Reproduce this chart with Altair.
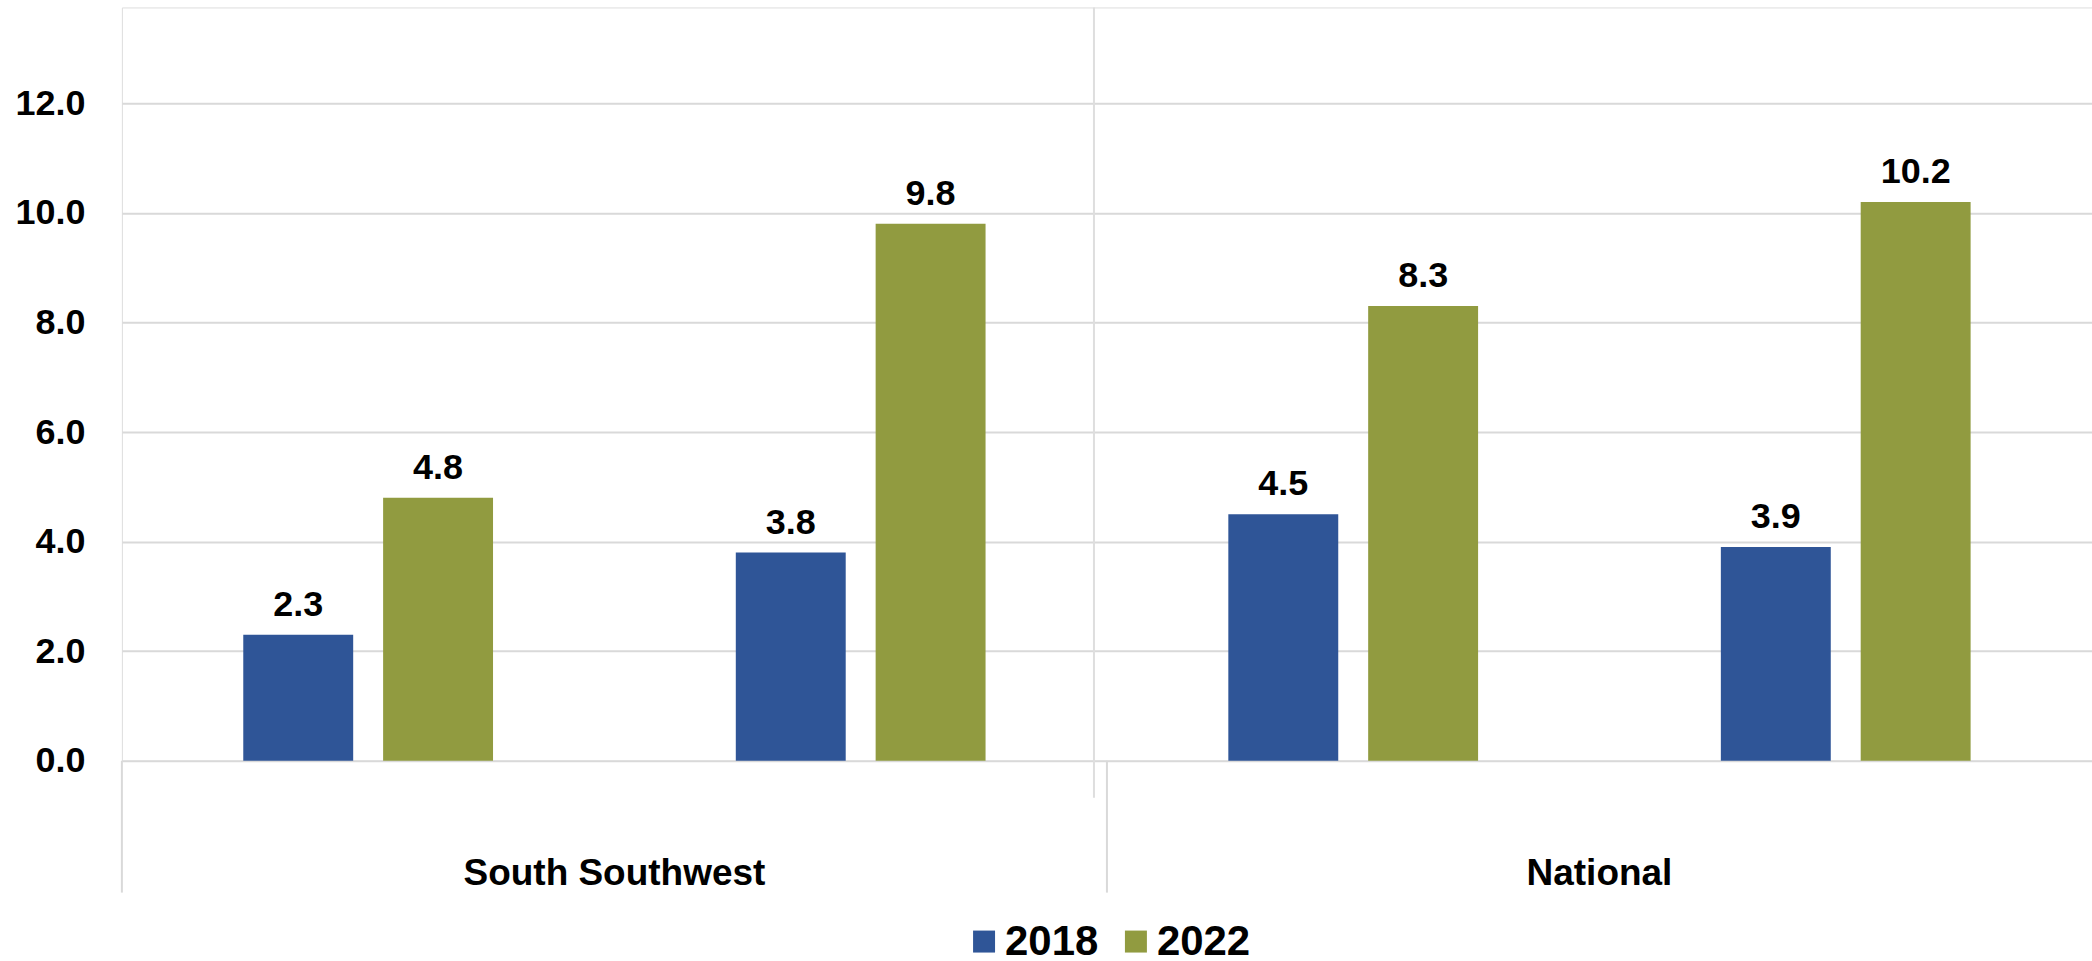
import altair as alt
import pandas as pd

# ---- data ----
region_order = ["South Southwest", "National"]
drug_order = ["Cocaine", "Methamphetamines"]
years = ["2018", "2022"]
regions = ["South Southwest", "South Southwest", "National", "National"]
drugs = ["Cocaine", "Methamphetamines", "Cocaine", "Methamphetamines"]
values_2018 = [2.3, 3.8, 4.5, 3.9]
values_2022 = [4.8, 9.8, 8.3, 10.2]
y_ticks = [0, 2, 4, 6, 8, 10, 12]
colors = ["#2F5597", "#919B40"]

keys = [r + "|" + d for r in region_order for d in drug_order]

rows = []
for r, d, a, b in zip(regions, drugs, values_2018, values_2022):
    k = r + "|" + d
    rows.append({"key": k, "region": r, "drug": d, "year": years[0], "value": a})
    rows.append({"key": k, "region": r, "drug": d, "year": years[1], "value": b})
df = pd.DataFrame(rows)

# one row per region group, anchored on its first category
groups = pd.DataFrame(
    {"key": [r + "|" + drug_order[0] for r in region_order], "region": region_order}
)
separator_df = groups[groups["region"] == region_order[1]]

FONT = "Liberation Sans"
GRID = "#D9D9D9"
W = 1972
H = 754

x_scale = alt.Scale(domain=keys, paddingInner=0, paddingOuter=0)

x_enc = alt.X(
    "key:N",
    scale=x_scale,
    axis=alt.Axis(
        title=None,
        labelAngle=0,
        labelExpr="split(datum.label, '|')[1]",
        labelFont=FONT,
        labelFontSize=37.5,
        labelFontWeight="bold",
        labelColor="black",
        labelPadding=27,
        labelLimit=0,
        ticks=False,
        grid=False,
        domain=False,
    ),
)
xo_enc = alt.XOffset(
    "year:N", sort=years, scale=alt.Scale(paddingInner=0.214, paddingOuter=0.868)
)
y_enc = alt.Y(
    "value:Q",
    scale=alt.Scale(domain=[0, 13.75], nice=False, zero=True),
    axis=alt.Axis(
        title=None,
        values=y_ticks,
        format=".1f",
        domain=False,
        ticks=False,
        labelFont=FONT,
        labelFontSize=36,
        labelFontWeight="bold",
        labelColor="black",
        labelPadding=37,
        gridColor=GRID,
        gridWidth=2,
    ),
)

bars = alt.Chart(df).mark_bar().encode(
    x=x_enc,
    xOffset=xo_enc,
    y=y_enc,
    color=alt.Color(
        "year:N",
        sort=years,
        scale=alt.Scale(domain=years, range=colors),
        legend=alt.Legend(
            title=None,
            orient="none",
            direction="horizontal",
            legendX=842,
            legendY=914,
            symbolType="square",
            symbolSize=484,
            symbolStrokeWidth=0,
            labelFont=FONT,
            labelFontSize=42,
            labelFontWeight="bold",
            labelColor="black",
            labelOffset=0,
            columnPadding=16,
            labelLimit=0,
        ),
    ),
)

labels = alt.Chart(df).mark_text(
    baseline="alphabetic",
    dy=-19,
    font=FONT,
    fontSize=36,
    fontWeight="bold",
    color="black",
).encode(
    x=x_enc,
    xOffset=xo_enc,
    y=y_enc,
    text=alt.Text("value:Q", format=".1f"),
)

# region (outer category) labels, centred on each group of two categories
region_labels = alt.Chart(groups).mark_text(
    baseline="alphabetic",
    font=FONT,
    fontSize=37,
    fontWeight="bold",
    color="black",
).encode(
    x=alt.X("key:N", scale=x_scale, bandPosition=1, axis=None),
    y=alt.value(878),
    text="region:N",
)

# group dividers below the axis
dividers = alt.Chart(groups).mark_rule(color=GRID, strokeWidth=2).encode(
    x=alt.X("key:N", scale=x_scale, bandPosition=0, axis=None),
    y=alt.value(H),
    y2=alt.value(H + 132),
)

# long vertical separator between the two regions
separator = alt.Chart(separator_df).mark_rule(
    color="#DEDEDE", strokeWidth=2, xOffset=-13
).encode(
    x=alt.X("key:N", scale=x_scale, bandPosition=0, axis=None),
    y=alt.value(0),
    y2=alt.value(791),
)

chart = (
    alt.layer(bars, labels, region_labels, dividers, separator)
    .properties(
        width=W,
        height=H,
        padding={"left": 14, "top": 6, "right": 0, "bottom": 0},
    )
    .configure_view(stroke="transparent")
    .configure(background="white")
)

chart.save("out.html", embed_options={"renderer": "svg", "actions": False})
